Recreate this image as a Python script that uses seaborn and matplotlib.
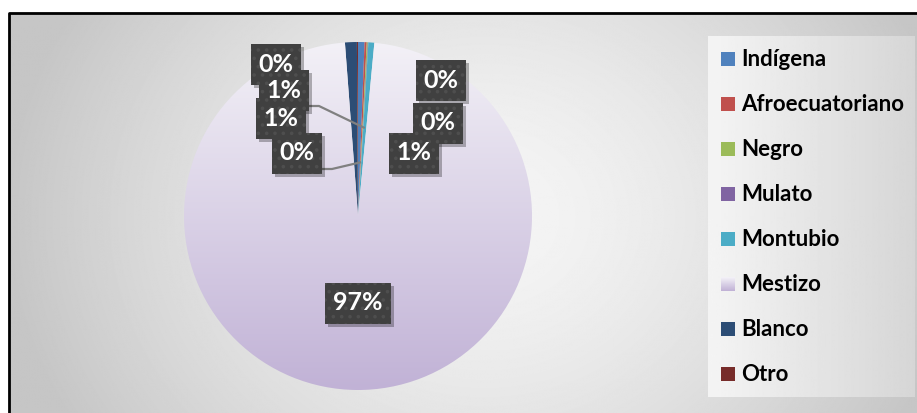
import numpy as np
import matplotlib
matplotlib.use("Agg")
import matplotlib.pyplot as plt
import seaborn as sns
from matplotlib.patches import Rectangle
from matplotlib.colors import LinearSegmentedColormap

# ---------------- data ----------------
categories = ["Indígena", "Afroecuatoriano", "Negro", "Mulato",
              "Montubio", "Mestizo", "Blanco", "Otro"]
values = [0.6, 0.2, 0.1, 0.05, 0.55, 97.3, 1.1, 0.1]

# ---------------- style ----------------
sns.set_theme(style="white")
plt.rcParams["font.family"] = ["Lato", "DejaVu Sans"]
plt.rcParams["hatch.color"] = "#4E4E4E"
plt.rcParams["hatch.linewidth"] = 1.4

colors = sns.color_palette(["#4F81BD", "#C0504D", "#9BBB59", "#8064A2",
                            "#4BACC6", "#DCD5E8", "#2C4D75", "#772C2A"])
mestizo_top, mestizo_bot = "#F3F1F7", "#C1B2D6"

W, H = 917, 413
fig = plt.figure(figsize=(W / 100, H / 100), dpi=100)
fig.patch.set_facecolor("white")

# background axes in pixel coordinates
bg = fig.add_axes([0, 0, 1, 1])
bg.axis("off")

X, Y = np.meshgrid(np.arange(W), np.arange(H))
dx = (X - 480) / 480.0
dy = (Y - 210) / 420.0
t = np.clip(np.sqrt(dx ** 2 + dy ** 2), 0, 1)
v = 245 - 47 * t ** 1.5
bg.imshow(v, cmap="gray", vmin=0, vmax=255, extent=[9, W, H, 13],
          aspect="auto", zorder=0, interpolation="bilinear")
# legend panel
lg = np.linspace(244, 214, 200).reshape(1, -1)
bg.imshow(lg, cmap="gray", vmin=0, vmax=255, extent=[708, 915, 397, 36],
          aspect="auto", zorder=1)
# border
bg.plot([9, 9, W + 5], [H + 5, 13, 13], color="black", lw=2, zorder=2,
        solid_capstyle="projecting")

# legend entries
for i, (name, c) in enumerate(zip(categories, colors)):
    yc = 59 + 45 * i
    if name == "Mestizo":
        g = np.linspace(0, 1, 20).reshape(-1, 1)
        cm = LinearSegmentedColormap.from_list("m", [mestizo_top, mestizo_bot])
        bg.imshow(g, cmap=cm, extent=[721, 735, yc + 7, yc - 7],
                  aspect="auto", zorder=3)
    else:
        bg.add_patch(Rectangle((721, yc - 7), 14, 14, facecolor=c,
                               edgecolor="none", zorder=3))
    bg.text(741, yc + 0.5, name, fontsize=16, fontweight="bold",
            color="black", va="center", ha="left", zorder=3)
bg.set_xlim(0, W)
bg.set_ylim(H, 0)

# ---------------- pie ----------------
cx, cy, R = 358, 216, 174
ax = fig.add_axes([(cx - 250) / W, (H - (cy + 190)) / H, 500 / W, 380 / H])
ax.patch.set_alpha(0)
wedges, _ = ax.pie(values, colors=colors, startangle=90,
                   counterclock=False, radius=1,
                   wedgeprops=dict(linewidth=0))

# gradient fill for Mestizo
mw = wedges[categories.index("Mestizo")]
cm = LinearSegmentedColormap.from_list("mest", [mestizo_top, mestizo_bot])
grad = np.linspace(0, 1, 256).reshape(-1, 1)
im = ax.imshow(grad, cmap=cm, extent=[-1, 1, -1, 1], origin="upper",
               aspect="auto", zorder=mw.get_zorder())
im.set_clip_path(mw)
mw.set_facecolor("none")
ax.axis("off")

total = sum(values)
labels = [f"{int(np.floor(v / total * 100 + 0.5))}%" for v in values]

def px2d(px, py):
    return (px - cx) / R, (cy - py) / R

# label layout (pixel centres) and draw order
layout = [
    ("Mulato", (297, 153), 0.31),
    ("Montubio", (284, 90), 0.507),
    ("Otro", (276, 64), None),
    ("Blanco", (281, 118), None),
    ("Afroecuatoriano", (441, 80), None),
    ("Negro", (438, 123), None),
    ("Indígena", (414, 153), None),
    ("Mestizo", (358, 303), None),
]
order = ["Montubio", "Otro", "Blanco", "Mulato",
         "Afroecuatoriano", "Negro", "Indígena", "Mestizo"]
lay = {k: (p, r) for k, p, r in layout}

FS = 18
BOX_H = 41
z = 6
for name in order:
    (px, py), rr = lay[name]
    i = categories.index(name)
    x, y = px2d(px, py)
    bw = (18 + 16 * len(labels[i])) / R
    bh = BOX_H / R
    if rr is not None:
        w = wedges[i]
        mid = np.deg2rad((w.theta1 + w.theta2) / 2)
        tx, ty = rr * np.cos(mid), rr * np.sin(mid)
        sx, sy = px2d(px + 25, py + 16)
        kx, ky = px2d(px + 35, py + 16)
        ax.plot([sx, kx, tx], [sy, ky, ty], color="#808080", lw=1.6,
                zorder=4, solid_capstyle="butt")
    # shadow
    ax.add_patch(Rectangle((x - bw / 2 + 3 / R, y - bh / 2 - 3 / R), bw, bh,
                           facecolor="black", alpha=0.28, edgecolor="none",
                           zorder=5))
    # box
    ax.add_patch(Rectangle((x - bw / 2, y - bh / 2), bw, bh,
                           facecolor="#404040", edgecolor="#4E4E4E",
                           linewidth=0, hatch="..", zorder=z))
    ax.text(x, y, labels[i], color="white", zorder=30, ha="center",
            va="center", fontsize=FS, fontweight="bold")
    z += 1

ax.set_xlim(-250 / R, 250 / R)
ax.set_ylim(-190 / R, 190 / R)
ax.set_aspect("equal")
fig.savefig("out.png", dpi=100)
